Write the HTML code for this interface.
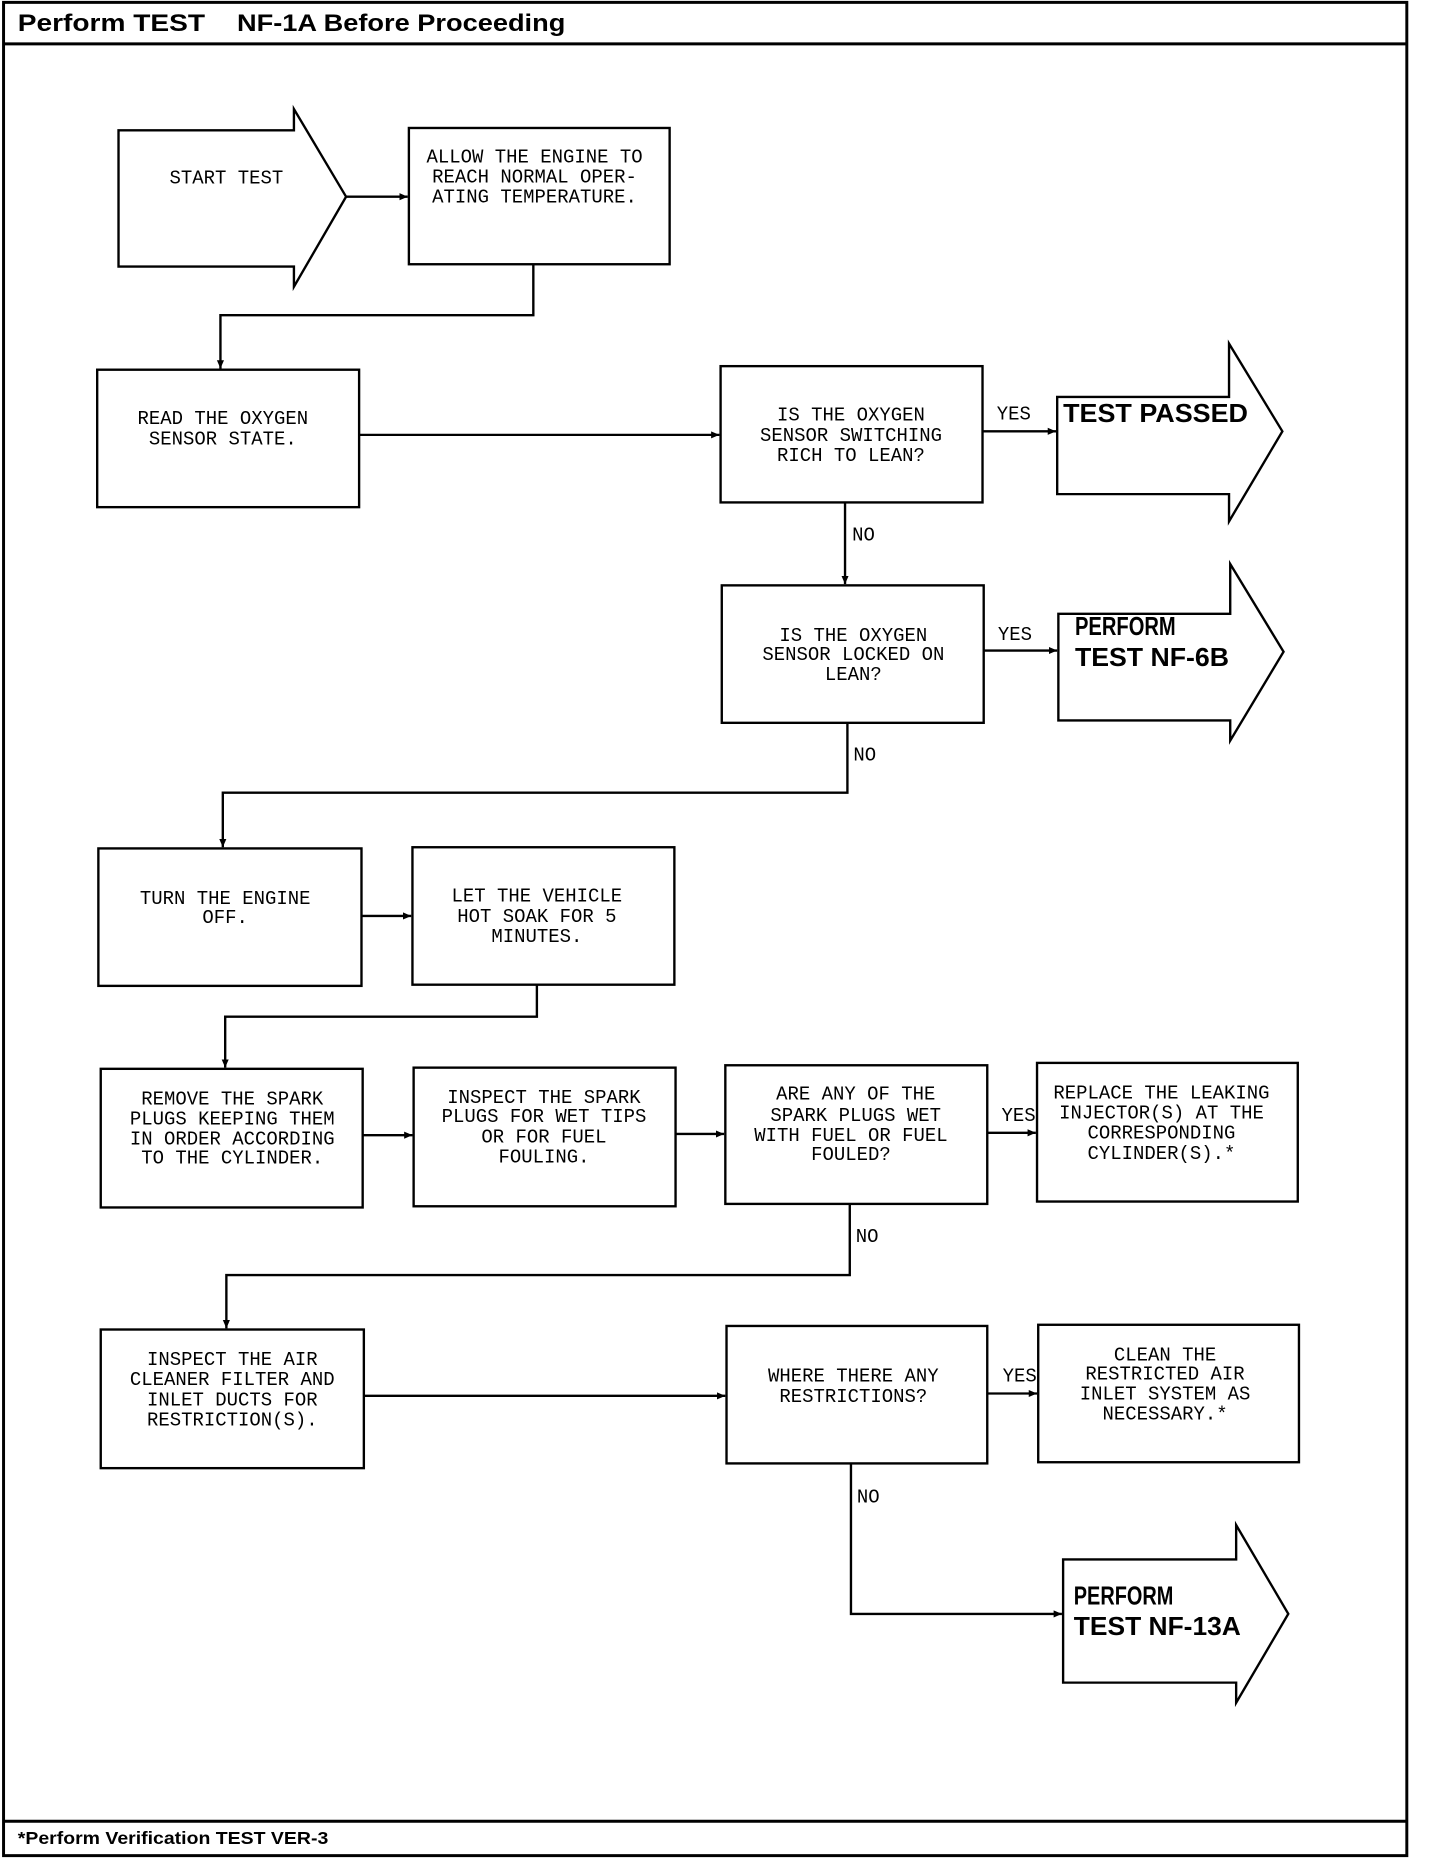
<!DOCTYPE html>
<html><head><meta charset="utf-8"><style>
html,body{margin:0;padding:0;background:#fff;}
svg{display:block;}
.t{font-family:"Liberation Mono",monospace;font-size:16px;fill:#000;text-anchor:middle;}
.l{font-family:"Liberation Mono",monospace;font-size:16px;fill:#000;}
.b{font-family:"Liberation Sans",sans-serif;font-weight:bold;fill:#000;}
</style></head><body>
<svg width="1440" height="1858" viewBox="0 0 1215 1568" preserveAspectRatio="none" xmlns="http://www.w3.org/2000/svg">
<defs><marker id="a" markerWidth="8" markerHeight="8" refX="7" refY="4" orient="auto" markerUnits="userSpaceOnUse"><path d="M0,1 L7,4 L0,7 Z" fill="#000"/></marker></defs>
<g fill="none" stroke="#000" stroke-width="2">
<rect x="3" y="2" width="1184" height="1564" stroke-width="2.5"/>
<line x1="3" y1="37" x2="1187" y2="37" stroke-width="2.5"/>
<line x1="3" y1="1537" x2="1187" y2="1537" stroke-width="2.5"/>
<path d="M100,110 L248,110 L248,92 L292,166 L248,242 L248,225 L100,225 Z"/>
<line x1="292" y1="166" x2="344" y2="166" marker-end="url(#a)"/>
<rect x="345" y="108" width="220" height="115"/>
<polyline points="450,223 450,266 186,266 186,311" marker-end="url(#a)"/>
<rect x="82" y="312" width="221" height="116"/>
<line x1="303" y1="367" x2="607" y2="367" marker-end="url(#a)"/>
<rect x="608" y="309" width="221" height="115"/>
<line x1="829" y1="364" x2="891" y2="364" marker-end="url(#a)"/>
<path d="M892,335 L1037,335 L1037,290 L1082,364 L1037,440 L1037,417 L892,417 Z"/>
<line x1="713" y1="424" x2="713" y2="493" marker-end="url(#a)"/>
<rect x="609" y="494" width="221" height="116"/>
<line x1="830" y1="549" x2="892" y2="549" marker-end="url(#a)"/>
<path d="M893,518 L1038,518 L1038,476 L1083,550 L1038,625 L1038,608 L893,608 Z"/>
<polyline points="715,610 715,669 188,669 188,715" marker-end="url(#a)"/>
<rect x="83" y="716" width="222" height="116"/>
<line x1="305" y1="773" x2="347" y2="773" marker-end="url(#a)"/>
<rect x="348" y="715" width="221" height="116"/>
<polyline points="453,831 453,858 190,858 190,901" marker-end="url(#a)"/>
<rect x="85" y="902" width="221" height="117"/>
<line x1="306" y1="958" x2="348" y2="958" marker-end="url(#a)"/>
<rect x="349" y="901" width="221" height="117"/>
<line x1="570" y1="957" x2="611" y2="957" marker-end="url(#a)"/>
<rect x="612" y="899" width="221" height="117"/>
<line x1="833" y1="956" x2="874" y2="956" marker-end="url(#a)"/>
<rect x="875" y="897" width="220" height="117"/>
<polyline points="717,1016 717,1076 191,1076 191,1121" marker-end="url(#a)"/>
<rect x="85" y="1122" width="222" height="117"/>
<line x1="307" y1="1178" x2="612" y2="1178" marker-end="url(#a)"/>
<rect x="613" y="1119" width="220" height="116"/>
<line x1="833" y1="1176" x2="875" y2="1176" marker-end="url(#a)"/>
<rect x="876" y="1118" width="220" height="116"/>
<polyline points="718,1235 718,1362 896,1362" marker-end="url(#a)"/>
<path d="M897,1316 L1043,1316 L1043,1287 L1087,1362 L1043,1437 L1043,1420 L897,1420 Z"/>
</g>
<text class="b" x="15" y="26" font-size="20" textLength="158" lengthAdjust="spacingAndGlyphs">Perform TEST</text>
<text class="b" x="200" y="26" font-size="20" textLength="277" lengthAdjust="spacingAndGlyphs">NF-1A Before Proceeding</text>
<text class="b" x="15" y="1556" font-size="15" textLength="262" lengthAdjust="spacingAndGlyphs">*Perform Verification TEST VER-3</text>
<text class="t" x="191" y="155">START TEST</text>
<text class="t" x="451" y="137">ALLOW THE ENGINE TO</text>
<text class="t" x="451" y="154">REACH NORMAL OPER-</text>
<text class="t" x="451" y="171">ATING TEMPERATURE.</text>
<text class="t" x="188" y="358">READ THE OXYGEN</text>
<text class="t" x="188" y="375">SENSOR STATE.</text>
<text class="t" x="718" y="355">IS THE OXYGEN</text>
<text class="t" x="718" y="372">SENSOR SWITCHING</text>
<text class="t" x="718" y="389">RICH TO LEAN?</text>
<text class="l" x="841" y="354">YES</text>
<text class="b" x="897" y="356" font-size="22" textLength="156" lengthAdjust="spacingAndGlyphs">TEST PASSED</text>
<text class="l" x="719" y="456">NO</text>
<text class="t" x="720" y="541">IS THE OXYGEN</text>
<text class="t" x="720" y="557">SENSOR LOCKED ON</text>
<text class="t" x="720" y="574">LEAN?</text>
<text class="l" x="842" y="540">YES</text>
<text class="b" x="907" y="536" font-size="22" textLength="85" lengthAdjust="spacingAndGlyphs">PERFORM</text>
<text class="b" x="907" y="562" font-size="22" textLength="130" lengthAdjust="spacingAndGlyphs">TEST NF-6B</text>
<text class="l" x="720" y="642">NO</text>
<text class="t" x="190" y="763">TURN THE ENGINE</text>
<text class="t" x="190" y="779">OFF.</text>
<text class="t" x="453" y="761">LET THE VEHICLE</text>
<text class="t" x="453" y="778">HOT SOAK FOR 5</text>
<text class="t" x="453" y="795">MINUTES.</text>
<text class="t" x="196" y="932">REMOVE THE SPARK</text>
<text class="t" x="196" y="949">PLUGS KEEPING THEM</text>
<text class="t" x="196" y="966">IN ORDER ACCORDING</text>
<text class="t" x="196" y="982">TO THE CYLINDER.</text>
<text class="t" x="459" y="931">INSPECT THE SPARK</text>
<text class="t" x="459" y="947">PLUGS FOR WET TIPS</text>
<text class="t" x="459" y="964">OR FOR FUEL</text>
<text class="t" x="459" y="981">FOULING.</text>
<text class="t" x="722" y="928">ARE ANY OF THE</text>
<text class="t" x="722" y="946">SPARK PLUGS WET</text>
<text class="t" x="718" y="963">WITH FUEL OR FUEL</text>
<text class="t" x="718" y="979">FOULED?</text>
<text class="l" x="845" y="946">YES</text>
<text class="t" x="980" y="927">REPLACE THE LEAKING</text>
<text class="t" x="980" y="944">INJECTOR(S) AT THE</text>
<text class="t" x="980" y="961">CORRESPONDING</text>
<text class="t" x="980" y="978">CYLINDER(S).*</text>
<text class="l" x="722" y="1048">NO</text>
<text class="t" x="196" y="1152">INSPECT THE AIR</text>
<text class="t" x="196" y="1169">CLEANER FILTER AND</text>
<text class="t" x="196" y="1186">INLET DUCTS FOR</text>
<text class="t" x="196" y="1203">RESTRICTION(S).</text>
<text class="t" x="720" y="1166">WHERE THERE ANY</text>
<text class="t" x="720" y="1183">RESTRICTIONS?</text>
<text class="l" x="846" y="1166">YES</text>
<text class="t" x="983" y="1148">CLEAN THE</text>
<text class="t" x="983" y="1164">RESTRICTED AIR</text>
<text class="t" x="983" y="1181">INLET SYSTEM AS</text>
<text class="t" x="983" y="1198">NECESSARY.*</text>
<text class="l" x="723" y="1268">NO</text>
<text class="b" x="906" y="1354" font-size="22" textLength="84" lengthAdjust="spacingAndGlyphs">PERFORM</text>
<text class="b" x="906" y="1380" font-size="22" textLength="141" lengthAdjust="spacingAndGlyphs">TEST NF-13A</text>
</svg>
</body></html>
